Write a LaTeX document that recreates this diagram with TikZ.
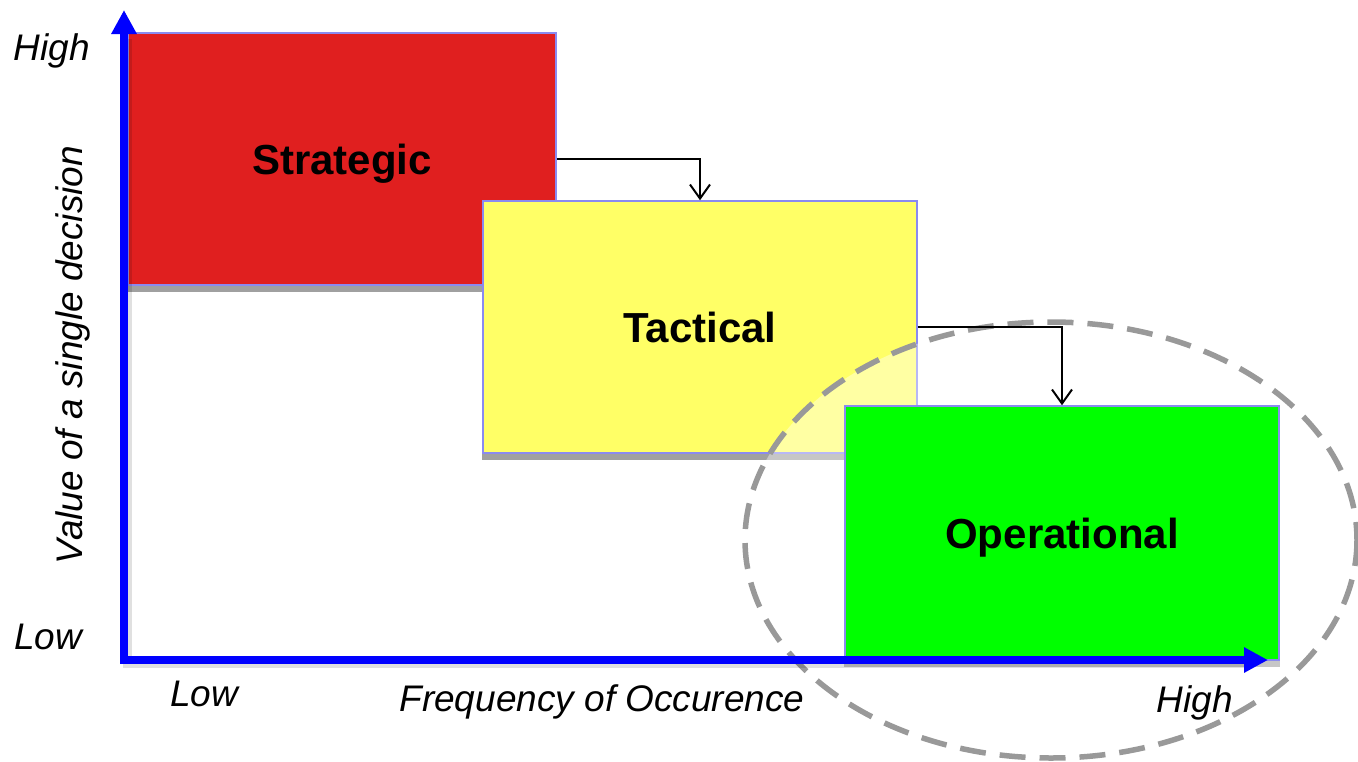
\documentclass[tikz,border=0pt]{standalone}
\usepackage{fontspec}
\setmainfont{Liberation Sans}
\usetikzlibrary{arrows.meta}
\definecolor{stratred}{HTML}{E01F1F}
\definecolor{tactyellow}{HTML}{FFFF66}
\definecolor{opgreen}{HTML}{00FF00}
\definecolor{boxedge}{HTML}{8A8AF0}
\definecolor{shadowgray}{HTML}{A0A0A0}
\definecolor{axisblue}{HTML}{0000FF}
\definecolor{ringgray}{HTML}{999999}
\pgfdeclarelayer{back}
\pgfsetlayers{back,main}
\begin{document}
\begin{tikzpicture}[x=1pt,y=-1pt,
  box/.style={draw=boxedge, line width=1.5pt, inner sep=0pt,
    text height=31pt, text depth=0pt,
    font=\fontsize{42}{48}\selectfont\bfseries},
  boxshadow/.style={fill=shadowgray},
  axis/.style={draw=axisblue, line width=8pt, line join=miter,
    {Triangle[width=24pt,length=24pt]}-{Triangle[width=24pt,length=24pt]}},
  axisshadow/.style={draw=black, opacity=0.12, line width=9pt, line join=miter},
  flow/.style={draw=black, line width=2pt, -{Straight Barb[length=14pt,width=20pt]}},
  ring/.style={draw=ringgray, line width=5.5pt, dash pattern=on 26pt off 14pt},
  lbl/.style={font=\fontsize{37}{44}\selectfont\itshape, inner sep=0pt, anchor=base}]
\useasboundingbox (0,0) rectangle (1358,761);

% decision levels
\node[box, fill=stratred, minimum width=428pt, minimum height=252pt] (S) at (342,159) {Strategic};
\node[box, fill=tactyellow, minimum width=434pt, minimum height=252pt] (T) at (700,327) {Tactical};

% highlighted operational zone (translucent fill)
\fill[white, opacity=0.4] (1051,540) ellipse [x radius=306, y radius=218];

\node[box, fill=opgreen, minimum width=434pt, minimum height=254pt] (O) at (1062,533) {Operational};

% drop shadows under the boxes
\begin{pgfonlayer}{back}
  \fill[boxshadow] ([yshift=-6pt]S.south west) rectangle (S.east);
  \fill[boxshadow] ([yshift=-6pt]T.south west) rectangle (T.east);
  \fill[boxshadow] ([yshift=-6pt]O.south west) rectangle (O.east);
\end{pgfonlayer}

\draw[ring] (1051,540) ellipse [x radius=306, y radius=218];

% axes
\coordinate (ytop) at (124,10);
\coordinate (origin) at (124,660);
\coordinate (xend) at (1268,660);
\draw[axisshadow] ([shift={(3pt,-3pt)}]ytop |- 0,36) -- ([shift={(3pt,-3pt)}]origin) -- ([shift={(3pt,-3pt)}]1244,660);
\draw[axis] (ytop) -- (origin) -- (xend);

% flow between levels
\draw[flow] (S.east) -| (T.north);
\draw[flow] (T.east) -| (O.north);

% axis labels
\node[lbl] (yhigh) at (52,60) {High};
\node[lbl] (ylow) at (48,649) {Low};
\node[lbl] (xlow) at (204,706) {Low};
\node[lbl] (xtitle) at (602,711) {Frequency of Occurence};
\node[lbl] (xhigh) at (1195,712) {High};
\node[lbl, rotate=90] (ytitle) at (82,355) {Value of a single decision};
\end{tikzpicture}
\end{document}
